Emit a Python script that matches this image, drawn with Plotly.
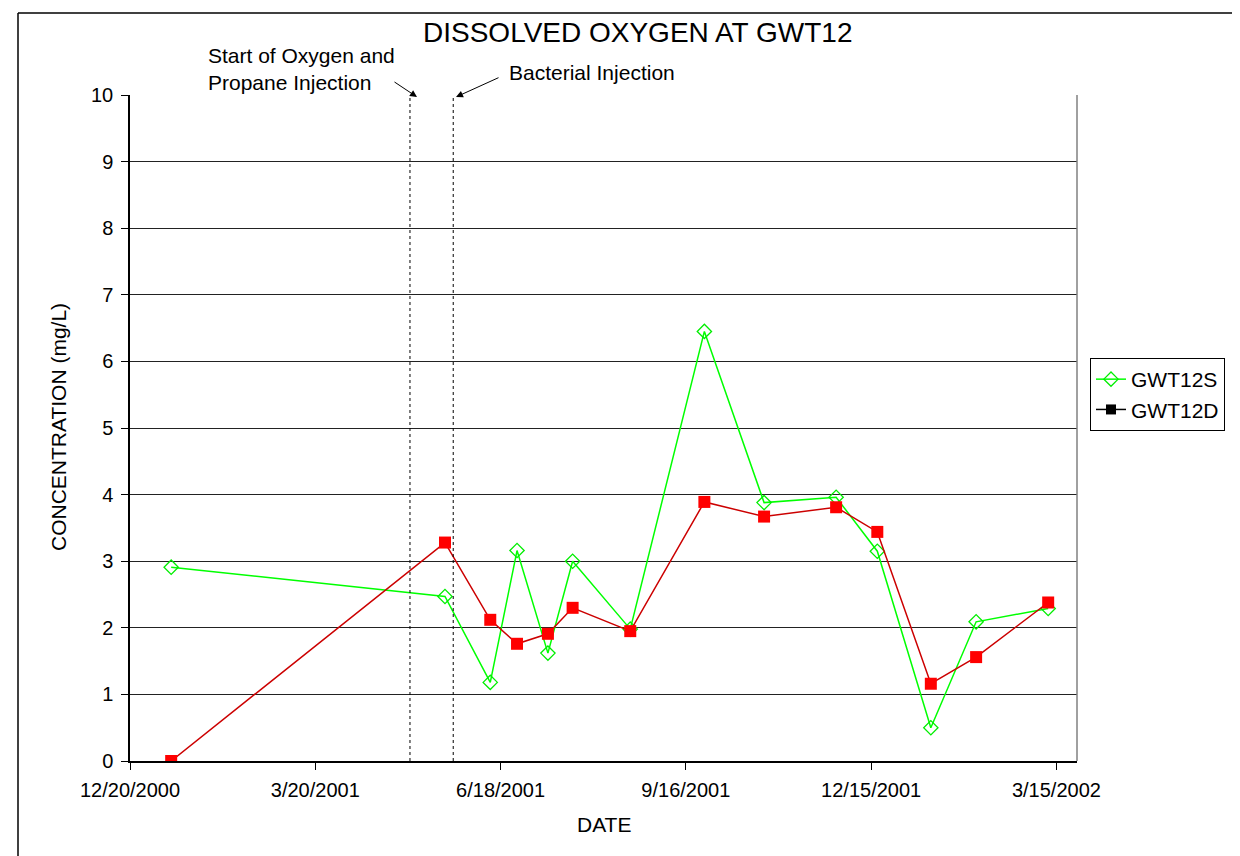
import plotly.graph_objects as go

# ---- data ----
dates = ["2001-01-09", "2001-05-22", "2001-06-13", "2001-06-26", "2001-07-11",
         "2001-07-23", "2001-08-20", "2001-09-25", "2001-10-24", "2001-11-28",
         "2001-12-18", "2002-01-13", "2002-02-04", "2002-03-11"]
gwt12s = [2.91, 2.47, 1.18, 3.16, 1.62, 3.00, 1.98, 6.45, 3.88, 3.96, 3.15, 0.50, 2.09, 2.29]
gwt12d = [0.00, 3.28, 2.12, 1.76, 1.91, 2.30, 1.95, 3.89, 3.67, 3.81, 3.44, 1.16, 1.56, 2.38]

x_tickvals = ["2000-12-20", "2001-03-20", "2001-06-18", "2001-09-16", "2001-12-15", "2002-03-15"]
x_ticktext = ["12/20/2000", "3/20/2001", "6/18/2001", "9/16/2001", "12/15/2001", "3/15/2002"]
y_tickvals = [0, 1, 2, 3, 4, 5, 6, 7, 8, 9, 10]

event_dates = ["2001-05-05", "2001-05-26"]
event_labels = ["Start of Oxygen and<br>Propane Injection", "Bacterial Injection"]

FONT = "Liberation Sans, Arial, sans-serif"
OFF = 8  # page body margin
W, H = 1240 - OFF, 856 - OFF
L, R, T, B = 130, 1077, 95, 761  # plot area in page pixels


def px(xp):
    return (xp - L) / (R - L)


def py(yp):
    return (B - yp) / (B - T)


fig = go.Figure()

fig.add_trace(go.Scatter(
    x=dates, y=gwt12s, mode="lines+markers", showlegend=False,
    line=dict(color="#00ff00", width=1.5),
    marker=dict(symbol="diamond-open", size=11, color="#00ee00", line=dict(width=1.3, color="#00ee00")),
))
fig.add_trace(go.Scatter(
    x=dates, y=gwt12d, mode="lines+markers", showlegend=False,
    line=dict(color="#cc0000", width=1.5),
    marker=dict(symbol="square", size=12, color="#ff0000", line=dict(width=0)),
))
# legend entries
fig.add_trace(go.Scatter(
    x=[None], y=[None], mode="lines+markers", name="GWT12S",
    line=dict(color="#00ff00", width=1.5),
    marker=dict(symbol="diamond-open", size=11, color="#00ee00", line=dict(width=1.3, color="#00ee00")),
))
fig.add_trace(go.Scatter(
    x=[None], y=[None], mode="lines+markers", name="GWT12D",
    line=dict(color="#000000", width=1.5),
    marker=dict(symbol="square", size=10, color="#000000"),
))

shapes = []
for d in event_dates:
    shapes.append(dict(type="line", xref="x", yref="y", x0=d, x1=d, y0=0, y1=10,
                       line=dict(color="black", width=1, dash="dot")))
# plot area right border
shapes.append(dict(type="line", xref="paper", yref="paper", x0=1, x1=1, y0=0, y1=1,
                   line=dict(color="#808080", width=1.5)))
# outer chart border (top and left edges only are inside the picture)
shapes.append(dict(type="line", xref="paper", yref="paper",
                   x0=px(18), x1=px(1300), y0=py(13), y1=py(13),
                   line=dict(color="black", width=1.5), layer="below"))
shapes.append(dict(type="line", xref="paper", yref="paper",
                   x0=px(18), x1=px(18), y0=py(13), y1=py(900),
                   line=dict(color="black", width=1.5), layer="below"))

annotations = [
    dict(text="DISSOLVED OXYGEN AT GWT12", xref="paper", yref="paper",
         x=px(637), y=py(32), xanchor="center", yanchor="middle", showarrow=False,
         font=dict(size=28, color="black", family=FONT)),
    dict(text="DATE", xref="paper", yref="paper", x=px(604), y=py(824),
         xanchor="center", yanchor="middle", showarrow=False,
         font=dict(size=21, color="black", family=FONT)),
    dict(text="CONCENTRATION (mg/L)", xref="paper", yref="paper", x=px(58), y=py(427),
         xanchor="center", yanchor="middle", showarrow=False, textangle=-90,
         font=dict(size=21, color="black", family=FONT)),
    dict(text=event_labels[0], xref="paper", yref="paper", x=px(206), y=py(69),
         xanchor="left", yanchor="middle", align="left", showarrow=False,
         font=dict(size=21, color="black", family=FONT)),
    dict(text=event_labels[1], xref="paper", yref="paper", x=px(507), y=py(72),
         xanchor="left", yanchor="middle", align="left", showarrow=False,
         font=dict(size=21, color="black", family=FONT)),
    # arrows
    dict(text="", xref="paper", yref="paper", x=px(417), y=py(97), ax=-24, ay=-16,
         showarrow=True, arrowhead=2, arrowsize=1.4, arrowwidth=1, arrowcolor="black"),
    dict(text="", xref="paper", yref="paper", x=px(456), y=py(97), ax=44, ay=-20,
         showarrow=True, arrowhead=2, arrowsize=1.4, arrowwidth=1, arrowcolor="black"),
]

fig.update_layout(
    width=W, height=H,
    margin=dict(l=L - OFF, r=W - (R - OFF), t=T - OFF, b=H - (B - OFF), pad=0),
    paper_bgcolor="white", plot_bgcolor="white",
    font=dict(family=FONT, size=20, color="black"),
    showlegend=True,
    legend=dict(x=px(1090), y=py(358), xanchor="left", yanchor="top",
                bordercolor="black", borderwidth=1, bgcolor="white",
                font=dict(size=21, family=FONT, color="black"),
                tracegroupgap=0, itemwidth=30),
    shapes=shapes,
    annotations=annotations,
)

fig.update_xaxes(
    type="date", range=["2000-12-20", "2002-03-25"],
    tickmode="array", tickvals=x_tickvals, ticktext=x_ticktext,
    ticks="outside", ticklen=7, tickcolor="black", tickwidth=1,
    showline=True, linecolor="black", linewidth=1.5,
    showgrid=False, zeroline=False,
    tickfont=dict(size=20, family=FONT, color="black"),
    ticklabelstandoff=3,
)
fig.update_yaxes(
    range=[0, 10], tickmode="array", tickvals=y_tickvals,
    ticks="outside", ticklen=7, tickcolor="black", tickwidth=1,
    showline=True, linecolor="black", linewidth=1.5,
    showgrid=True, gridcolor="#222222", gridwidth=1, zeroline=False,
    tickfont=dict(size=20, family=FONT, color="black"),
    ticklabelstandoff=4,
)

fig.write_html("out.html")
